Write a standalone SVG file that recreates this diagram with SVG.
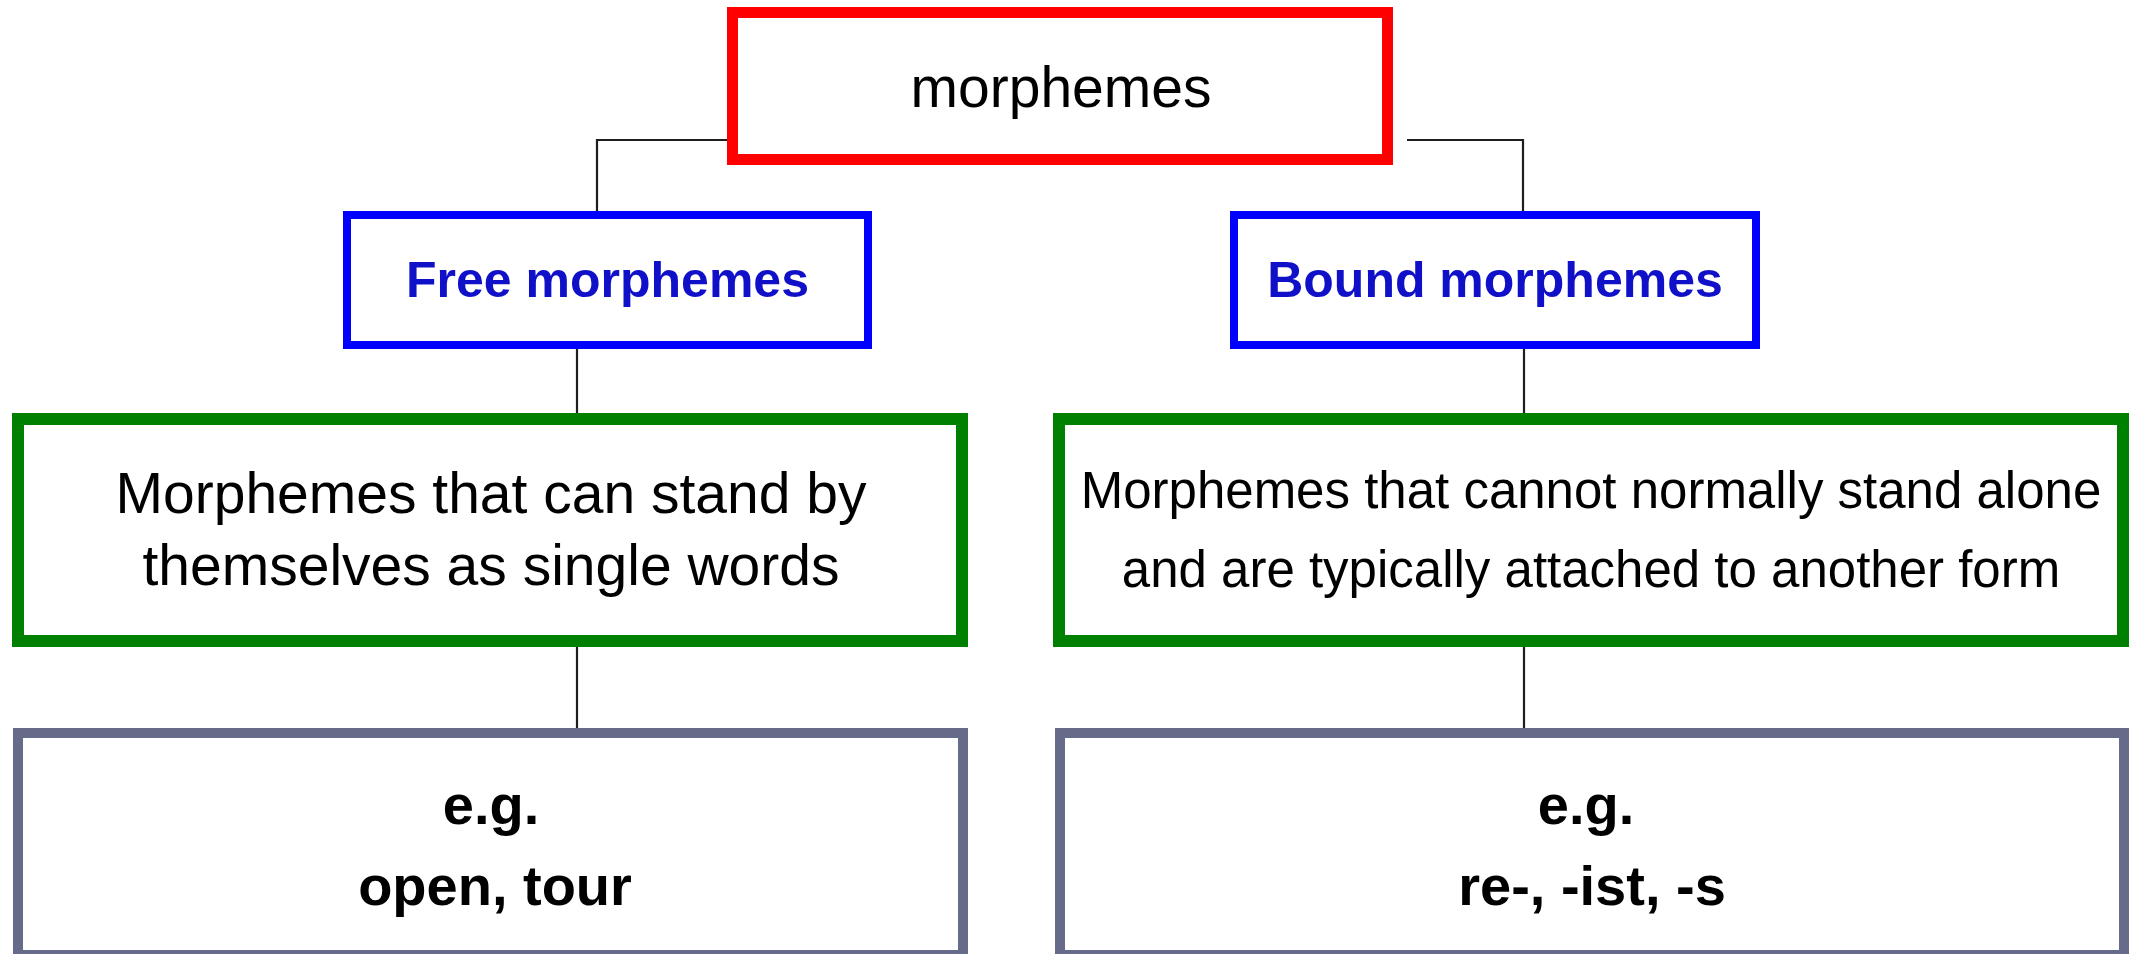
<svg xmlns="http://www.w3.org/2000/svg" width="2138" height="954" viewBox="0 0 2138 954">
  <style>
    .box { fill: #ffffff; }
    .root { stroke: #ff0000; stroke-width: 11; }
    .kind { stroke: #0000ff; stroke-width: 8; }
    .desc { stroke: #008000; stroke-width: 12; }
    .ex { stroke: #656b88; stroke-width: 10; }
    text { font-family: "Liberation Sans", Arial, sans-serif; text-anchor: middle; fill: #000000; }
    .kind-label { font-weight: bold; font-size: 50px; fill: #1010c8; }
    .ex-label { font-weight: bold; font-size: 56px; }
    .links path { fill: none; stroke: #1e1e1e; stroke-width: 2.2; }
  </style>
  <rect width="2138" height="954" fill="#ffffff"/>

  <!-- tree connectors -->
  <g class="links">
    <path d="M733 140 H597 V215"/>
    <path d="M1407 140 H1523 V215"/>
    <path d="M577 349 V413"/>
    <path d="M1524 349 V413"/>
    <path d="M577 647 V728"/>
    <path d="M1524 647 V728"/>
  </g>

  <g id="morphemes">
    <rect class="box root" x="732.5" y="12.5" width="655" height="147"/>
    <text x="1061" y="107" font-size="57">morphemes</text>
  </g>

  <g id="free">
    <rect class="box kind" x="347" y="215" width="521" height="130"/>
    <text class="kind-label" x="607.5" y="297">Free morphemes</text>
  </g>

  <g id="bound">
    <rect class="box kind" x="1234" y="215" width="522" height="130"/>
    <text class="kind-label" x="1495" y="297">Bound morphemes</text>
  </g>

  <g id="free-def">
    <rect class="box desc" x="18" y="419" width="944" height="222"/>
    <text x="491" y="513" font-size="57">Morphemes that can stand by</text>
    <text x="491" y="585" font-size="57">themselves as single words</text>
  </g>

  <g id="bound-def">
    <rect class="box desc" x="1059" y="419" width="1064" height="222"/>
    <text x="1591" y="508" font-size="51">Morphemes that cannot normally stand alone</text>
    <text x="1591" y="587" font-size="51">and are typically attached to another form</text>
  </g>

  <g id="free-ex">
    <rect class="box ex" x="18" y="733" width="945" height="222"/>
    <text class="ex-label" x="491" y="824">e.g.</text>
    <text class="ex-label" x="495" y="905">open, tour</text>
  </g>

  <g id="bound-ex">
    <rect class="box ex" x="1060" y="733" width="1064" height="222"/>
    <text class="ex-label" x="1586" y="824">e.g.</text>
    <text class="ex-label" x="1592" y="905">re-, -ist, -s</text>
  </g>
</svg>
